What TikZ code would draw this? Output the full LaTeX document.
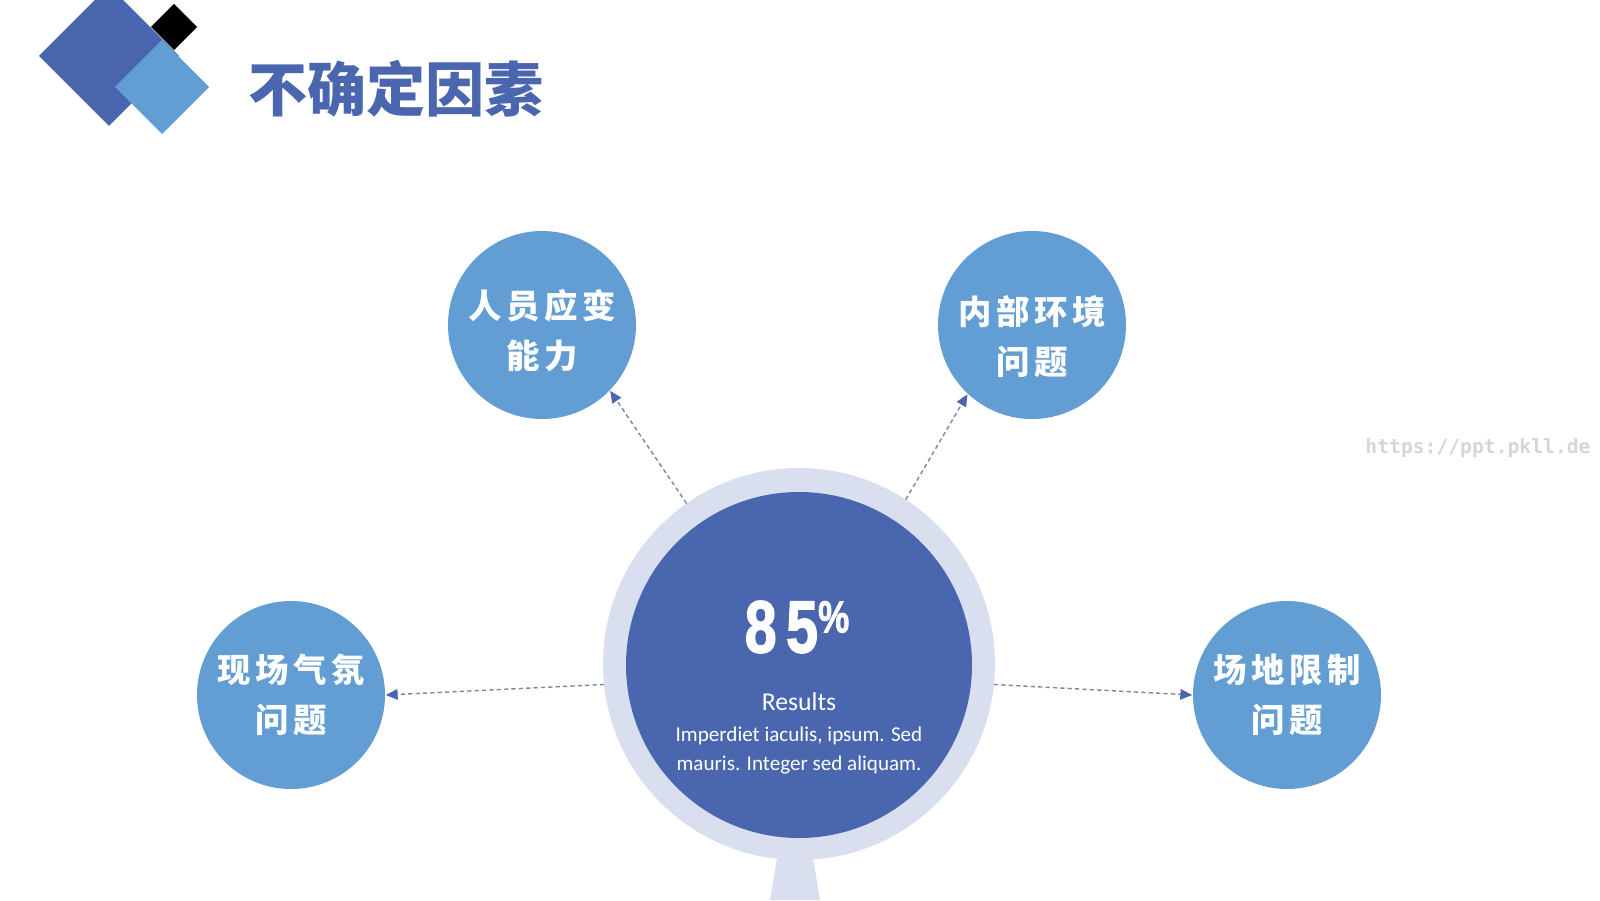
\documentclass[tikz,border=0pt]{standalone}
\usepackage{fontspec}
\usepackage{graphicx}
\usepackage{tikz}
\usetikzlibrary{arrows.meta,positioning}
\setmainfont{Carlito}
\newfontfamily\cjk{Noto Sans CJK SC}
\newfontfamily\cjklabel{Noto Sans CJK SC}[LetterSpace=14]
\newfontfamily\numfont{Liberation Sans}[BoldFeatures={FakeBold=2}]
\newfontfamily\urlfont{DejaVu Sans Mono}
\definecolor{titleblue}{HTML}{4A66AE}
\definecolor{satblue}{HTML}{629ED3}
\definecolor{ringgray}{HTML}{D9DFEE}
\definecolor{dashgray}{HTML}{7C86A6}
\definecolor{wmgray}{HTML}{D6D6D6}

\begin{document}
\begin{tikzpicture}[
    sat/.style={circle, fill=satblue, minimum size=1.88cm, inner sep=0pt},
    lbl/.style={text=white, align=center, inner sep=0pt,
                font=\cjklabel\bfseries\fontsize{9.5}{14.3}\selectfont},
    ringbox/.style={circle, fill=ringgray, minimum size=3.92cm, inner sep=0pt, outer sep=0pt},
    core/.style={circle, fill=titleblue, minimum size=3.46cm, inner sep=0pt},
    arr/.style={-{Triangle[length=3.4pt, width=3pt, color=titleblue]},
                draw=dashgray, line width=0.4pt, dash pattern=on 1.2pt off 0.9pt},
]
    \fill[white] (0,0) rectangle (16,9);
    \useasboundingbox (0,0) rectangle (16,9);

    % logo
    \fill[titleblue] (0.39,8.44) -- (1.09,9.14) -- (1.79,8.44) -- (1.09,7.74) -- cycle;
    \fill[black] (1.51,8.73) -- (1.74,8.96) -- (1.97,8.73) -- (1.74,8.50) -- cycle;
    \fill[satblue] (1.15,8.13) -- (1.62,8.60) -- (2.09,8.13) -- (1.62,7.66) -- cycle;
    \node[text=titleblue, font=\cjk\bfseries\fontsize{16.8}{16.8}\selectfont] (title) at (3.96,8.11) {不确定因素};

    % centre
    \fill[ringgray] (7.80,0.60) -- (7.70,0) -- (8.20,0) -- (8.10,0.60) -- cycle;
    \node[ringbox] (ring) at (7.99,2.36) {};
    \node[core] (core) at (7.99,2.35) {};
    \node[text=white, inner sep=0pt] (pct) at (7.97,2.73)
        {\scalebox{0.78}[1]{\numfont\bfseries\fontsize{21}{21}\selectfont 8\hspace{0.12cm}5\raisebox{0.2cm}{\fontsize{12.8}{12.8}\selectfont\%}}};
    \node[text=white, font=\fontsize{7.3}{8}\selectfont] (res) at (7.99,1.98) {Results};
    \node[text=white, align=center, font=\fontsize{6}{8.25}\selectfont] (body) at (7.99,1.50)
        {Imperdiet iaculis, ipsum. Sed\\mauris. Integer sed aliquam.};

    % satellites
    \node[sat] (staff) at (5.42,5.75) {};
    \node[sat] (inner) at (10.32,5.75) {};
    \node[sat] (scene) at (2.91,2.05) {};
    \node[sat] (venue) at (12.87,2.05) {};
    \node[lbl] (stafftxt) at ([yshift=-0.06cm]staff.center) {人员应变\\能力};
    \node[lbl] (innertxt) at ([yshift=-0.12cm]inner.center) {内部环境\\问题};
    \node[lbl] (scenetxt) at (scene.center) {现场气氛\\问题};
    \node[lbl] (venuetxt) at (venue.center) {场地限制\\问题};

    \draw[arr] (ring.125.6) -- (staff.-44);
    \draw[arr] (ring.57.9) -- (inner.-133.4);
    \draw[arr] (ring.186.1) -- (scene.0);
    \draw[arr] (ring.-6.5) -- (venue.180);

    \node[text=wmgray, font=\urlfont\bfseries\fontsize{5.6}{6}\selectfont] (url) at (14.78,4.52) {https://ppt.pkll.de};
\end{tikzpicture}
\end{document}
